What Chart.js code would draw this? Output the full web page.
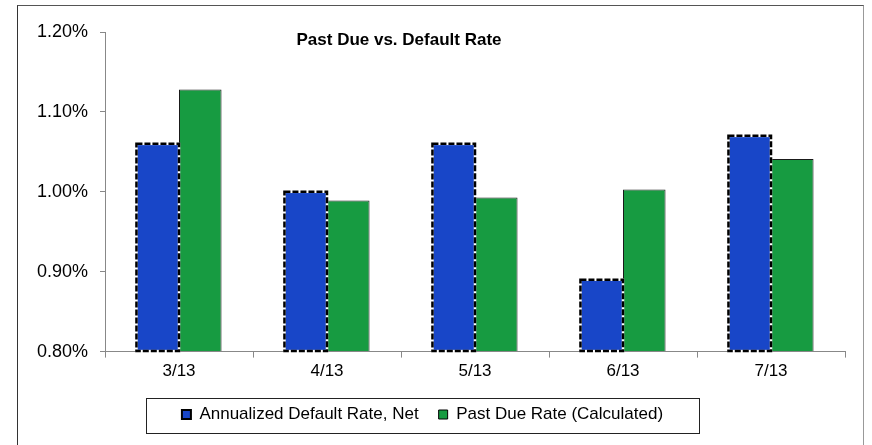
<!DOCTYPE html>
<html>
<head>
<meta charset="utf-8">
<script src="https://cdn.jsdelivr.net/npm/chart.js@4"></script>
<style>
  html, body { margin: 0; padding: 0; background: #fff; }
  #wrap { position: relative; width: 872px; height: 445px; }
  #frame {
    position: absolute; left: 17px; top: 5px; width: 845px; height: 460px;
    border-left: 1px solid #333; border-top: 1px solid #555; border-right: 1px solid #999;
  }
  #box { position: absolute; left: 0; top: 0; width: 872px; height: 445px; }
</style>
</head>
<body>
<div id="wrap">
  <div id="frame"></div>
  <div id="box"><canvas id="chart"></canvas></div>
</div>
<script>
// values (percent)
const months = ['3/13', '4/13', '5/13', '6/13', '7/13'];
const defaultRate = [1.06, 1.00, 1.06, 0.89, 1.07];
const pastDueRate = [1.128, 0.989, 0.993, 1.003, 1.041];
const yTicks = [0.80, 0.90, 1.00, 1.10, 1.20];

const BLUE = '#1846c8';
const GREEN = '#179b41';
const FONT = 'Liberation Sans, Arial, sans-serif';

// dashed outline round the default-rate bars
const dashedBars = {
  id: 'dashedBars',
  afterDatasetsDraw(chart) {
    const ctx = chart.ctx;
    const meta = chart.getDatasetMeta(0);
    ctx.save();
    meta.data.forEach(bar => {
      const left = bar.x - bar.width / 2;
      const top = bar.y;
      const w = bar.width;
      const h = Math.min(bar.base, chart.chartArea.bottom) - bar.y;
      ctx.lineWidth = 2.5;
      ctx.strokeStyle = '#fff';
      ctx.setLineDash([]);
      ctx.strokeRect(left, top, w, h);
      ctx.strokeStyle = '#000';
      ctx.setLineDash([6, 2]);
      ctx.strokeRect(left, top, w, h);
    });
    ctx.restore();
  }
};

// title placed inside the plot, plus legend frame
const extras = {
  id: 'extras',
  afterDraw(chart) {
    const ctx = chart.ctx;
    ctx.save();
    ctx.fillStyle = '#000';
    ctx.font = 'bold 17px ' + FONT;
    ctx.textAlign = 'center';
    ctx.textBaseline = 'middle';
    ctx.fillText('Past Due vs. Default Rate', 399, 40);

    const boxes = chart.legend.legendHitBoxes;
    if (boxes && boxes.length) {
      const l = Math.min(...boxes.map(b => b.left));
      const r = Math.max(...boxes.map(b => b.left + b.width));
      const cy = boxes[0].top + boxes[0].height / 2;
      ctx.strokeStyle = '#222';
      ctx.lineWidth = 1;
      ctx.strokeRect(Math.round(l - 36) + 0.5, Math.round(cy - 17) + 0.5, Math.round(r - l + 72), 35);
    }
    ctx.restore();
  }
};

new Chart(document.getElementById('chart'), {
  type: 'bar',
  data: {
    labels: months,
    datasets: [
      {
        label: 'Annualized Default Rate, Net',
        data: defaultRate,
        base: yTicks[0],
        backgroundColor: BLUE,
        borderWidth: 0
      },
      {
        label: 'Past Due Rate (Calculated)',
        data: pastDueRate,
        base: yTicks[0],
        backgroundColor: GREEN,
        borderColor: '#1a1a1a',
        borderWidth: 1
      }
    ]
  },
  options: {
    responsive: true,
    maintainAspectRatio: false,
    devicePixelRatio: 1,
    animation: false,
    datasets: { bar: { categoryPercentage: 0.575, barPercentage: 1 } },
    layout: { padding: { top: 32, right: 27, bottom: 12, left: 0 } },
    plugins: {
      title: { display: false },
      tooltip: { enabled: false },
      legend: {
        position: 'bottom',
        labels: {
          color: '#000',
          font: { family: FONT, size: 17 },
          boxWidth: 9,
          boxHeight: 9,
          padding: 20,
          generateLabels(chart) {
            return chart.data.datasets.map((ds, i) => ({
              text: ds.label,
              fillStyle: ds.backgroundColor,
              strokeStyle: '#000',
              lineWidth: i === 0 ? 2 : 1,
              datasetIndex: i
            }));
          }
        }
      }
    },
    scales: {
      x: {
        grid: { drawOnChartArea: false, tickLength: 6, color: '#888', offset: true },
        border: { color: '#888' },
        ticks: { color: '#000', font: { family: FONT, size: 17 }, padding: 4 }
      },
      y: {
        min: yTicks[0],
        max: yTicks[yTicks.length - 1],
        afterBuildTicks(scale) { scale.ticks = yTicks.map(v => ({ value: v })); },
        afterFit(scale) { scale.width = 105; },
        grid: { drawOnChartArea: false, tickLength: 5, color: '#888' },
        border: { color: '#888' },
        ticks: {
          color: '#000',
          font: { family: FONT, size: 18 },
          padding: 12,
          callback: v => v.toFixed(2) + '%'
        }
      }
    }
  },
  plugins: [dashedBars, extras]
});
</script>
</body>
</html>
